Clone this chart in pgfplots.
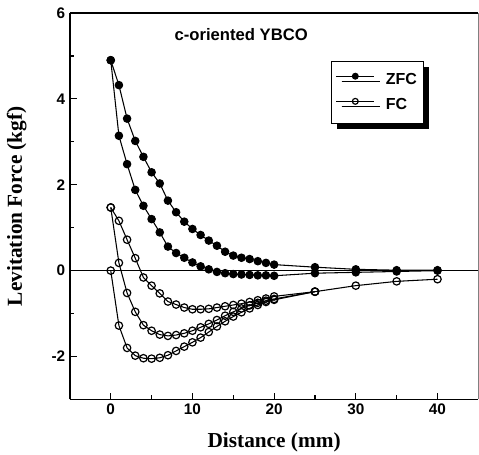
\documentclass[border=0pt]{standalone}
\usepackage{fontspec}
\setmainfont{Liberation Serif}
\newfontfamily\arial{Liberation Sans}
\usepackage{pgfplots}
\usepackage{pgfplotstable}
\pgfplotsset{compat=1.18}
\usetikzlibrary{shadows}

% ZFC, two branches
\pgfplotstableread{
x y
0 4.90
1 4.32
2 3.54
3 3.02
4 2.65
5 2.29
6 2.03
7 1.63
8 1.36
9 1.14
10 0.97
11 0.83
12 0.70
13 0.58
14 0.44
15 0.35
16 0.30
17 0.27
18 0.22
19 0.18
20 0.14
25 0.08
30 0.03
35 0.01
40 0.01
}\zfcA
\pgfplotstableread{
x y
0 4.90
1 3.14
2 2.48
3 1.88
4 1.51
5 1.20
6 0.89
7 0.56
8 0.41
9 0.30
10 0.19
11 0.10
12 0.03
13 -0.03
14 -0.06
15 -0.08
16 -0.09
17 -0.10
18 -0.11
19 -0.11
20 -0.12
25 -0.06
30 -0.04
35 -0.02
40 0.00
}\zfcB
% FC, three branches
\pgfplotstableread{
x y
0 1.47
1 1.16
2 0.72
3 0.29
4 -0.16
5 -0.35
6 -0.53
7 -0.72
8 -0.79
9 -0.86
10 -0.90
11 -0.90
12 -0.89
13 -0.86
14 -0.83
15 -0.80
16 -0.77
17 -0.73
18 -0.69
19 -0.65
20 -0.60
25 -0.49
30 -0.35
35 -0.25
40 -0.20
}\fcA
\pgfplotstableread{
x y
0 1.47
1 0.18
2 -0.52
3 -0.96
4 -1.27
5 -1.40
6 -1.49
7 -1.52
8 -1.50
9 -1.46
10 -1.40
11 -1.32
12 -1.24
13 -1.15
14 -1.05
15 -0.96
16 -0.88
17 -0.81
18 -0.75
19 -0.70
20 -0.66
25 -0.49
}\fcB
\pgfplotstableread{
x y
0 0.00
1 -1.28
2 -1.80
3 -1.98
4 -2.04
5 -2.05
6 -2.03
7 -1.97
8 -1.87
9 -1.77
10 -1.67
11 -1.56
12 -1.43
13 -1.30
14 -1.18
15 -1.07
16 -0.97
17 -0.88
18 -0.80
19 -0.73
20 -0.68
25 -0.49
}\fcC

\begin{document}
\begin{tikzpicture}
\begin{axis}[
    name=ax,
    scale only axis,
    width=306.75pt, height=290.25pt,
    xmin=-5, xmax=45, ymin=-3, ymax=6,
    xtick={0,10,20,30,40}, ytick={-2,0,2,4,6},
    minor x tick num=1, minor y tick num=1,
    axis lines*=left,
    tick align=inside,
    major tick length=5pt, minor tick length=3pt,
    axis line style={line width=1.2pt},
    every tick/.style={black, line width=0.9pt},
    /pgf/number format/assume math mode=true,
    ticklabel style={font=\arial\bfseries\fontsize{11.5}{13}\selectfont},
    xlabel={\bfseries Distance (mm)},
    ylabel={\bfseries Levitation Force (kgf)},
    label style={font=\fontsize{16}{18}\selectfont},
    xlabel style={at={(axis description cs:0.5,-0.111)}, anchor=center},
    ylabel style={at={(axis description cs:-0.13,0.5)}, anchor=center},
    legend style={at={(axis description cs:0.64,0.876)}, anchor=north west,
        draw=black, line width=0.8pt, fill=white,
        drop shadow={shadow xshift=4pt, shadow yshift=-4pt, fill=black, opacity=1},
        font=\arial\bfseries\fontsize{12}{14}\selectfont,
        inner xsep=3pt, inner ysep=7pt, row sep=5pt, column sep=0.22cm},
    legend cell align=left,
    legend image code/.code={\draw[mark repeat=2,mark phase=2,#1,mark size=2.2pt]
        plot coordinates {(0cm,0.1cm) (0.5cm,0.1cm) (1cm,0.1cm)};},
    clip=false
]
\addplot[black, line width=0.6pt, forget plot] coordinates {(-5,0) (45,0)};

\addplot[black, line width=0.8pt, mark=*, mark size=2.8pt] table {\zfcA};
\addlegendentry{ZFC}
\addplot[black, line width=0.8pt, mark=o, mark size=2.8pt,
    mark options={fill=white, line width=0.9pt}] table {\fcA};
\addlegendentry{FC}
\addplot[black, line width=0.8pt, mark=*, mark size=2.8pt, forget plot] table {\zfcB};
\addplot[black, line width=0.8pt, mark=o, mark size=2.8pt,
    mark options={fill=white, line width=0.9pt}, forget plot] table {\fcB};
\addplot[black, line width=0.8pt, mark=o, mark size=2.8pt,
    mark options={fill=white, line width=0.9pt}, forget plot] table {\fcC};

\node[anchor=west, font=\arial\bfseries\fontsize{12.5}{14}\selectfont]
    at (axis description cs:0.245,0.943) {c-oriented YBCO};
\end{axis}
\draw[line width=1.2pt] (ax.north west) -- (ax.north east);
\draw[gray, line width=0.4pt] (ax.south east) -- (ax.north east);
\pgfresetboundingbox
\path ([xshift=-52.5pt,yshift=-41.25pt]ax.south west) rectangle ([xshift=0.5pt,yshift=9.75pt]ax.north east);
\end{tikzpicture}
\end{document}
